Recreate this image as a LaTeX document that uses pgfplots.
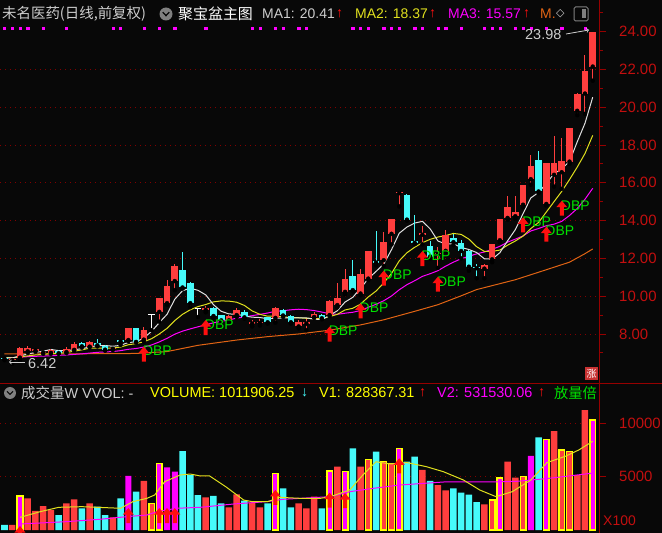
\documentclass[border=0pt]{standalone}
\usepackage{pgfplots}
\pgfplotsset{compat=1.18}
\usepackage{pgfplotstable}
\usepackage{fontspec}
\setmainfont{Liberation Sans}
\newfontfamily\cjk{Noto Sans CJK SC}
\newfontfamily\dejavu{DejaVu Sans}
\definecolor{bgc}{RGB}{8,8,8}
\definecolor{upc}{RGB}{255,62,62}
\definecolor{dnc}{RGB}{70,250,250}
\definecolor{mag}{RGB}{255,0,255}
\definecolor{yel}{RGB}{255,255,0}
\definecolor{ma2c}{RGB}{225,225,30}
\definecolor{ma1c}{RGB}{225,225,225}
\definecolor{orc}{RGB}{225,100,20}
\definecolor{axred}{RGB}{150,0,0}
\definecolor{labc}{RGB}{195,15,15}
\definecolor{gridc}{RGB}{130,0,0}
\definecolor{dbpg}{RGB}{0,225,0}
\definecolor{arrred}{RGB}{255,15,15}
\definecolor{lgray}{RGB}{205,205,205}
\definecolor{zhang}{RGB}{200,50,50}

\pgfdeclareplotmark{uparr}{%
  \pgfpathmoveto{\pgfpoint{0bp}{0bp}}%
  \pgfpathlineto{\pgfpoint{5.5bp}{-6.5bp}}%
  \pgfpathlineto{\pgfpoint{2bp}{-6.5bp}}%
  \pgfpathlineto{\pgfpoint{2bp}{-15bp}}%
  \pgfpathlineto{\pgfpoint{-2bp}{-15bp}}%
  \pgfpathlineto{\pgfpoint{-2bp}{-6.5bp}}%
  \pgfpathlineto{\pgfpoint{-5.5bp}{-6.5bp}}%
  \pgfpathclose
  \pgfusepathqfill}

\pgfplotstableread{
i o h l c
1 6.62 6.74 6.42 6.70
2 6.75 7.30 6.60 7.28
3 7.08 7.35 7.00 7.25
4 7.12 7.22 7.06 7.18
5 7.02 7.10 6.96 7.06
6 7.00 7.20 6.95 7.15
8 7.04 7.30 7.00 7.18
9 7.16 7.60 7.10 7.46
11 7.33 7.62 7.30 7.58
14 7.22 7.30 7.15 7.27
16 7.68 8.32 7.62 8.30
18 7.70 8.37 7.60 8.20
20 9.17 9.90 8.65 9.88
21 9.63 10.84 9.55 10.53
22 10.80 11.70 10.32 11.58
26 9.27 9.47 9.15 9.35
29 8.72 8.98 8.65 8.95
30 9.00 9.35 8.90 9.26
32 8.55 8.75 8.40 8.62
33 8.58 8.80 8.45 8.65
35 8.85 9.45 8.60 9.40
38 8.40 8.75 8.30 8.65
39 8.55 8.80 8.20 8.62
40 8.90 9.15 8.85 9.06
42 9.00 9.80 8.95 9.75
43 9.53 10.68 9.40 9.88
44 10.23 11.42 10.10 10.93
46 10.14 11.42 10.05 11.16
47 10.93 12.40 10.85 12.38
49 11.90 13.40 11.60 12.88
50 13.30 14.10 12.74 14.09
51 15.45 15.54 14.75 15.50
54 13.25 13.74 12.74 13.35
56 12.25 12.60 11.50 12.30
57 12.40 13.50 12.35 13.25
62 11.46 11.70 10.95 11.63
63 11.95 12.75 11.80 12.74
64 12.96 14.10 12.85 14.09
65 14.14 15.32 14.05 14.72
66 14.23 15.28 14.10 14.44
67 14.84 15.90 14.70 15.86
68 16.19 17.47 15.90 16.91
70 14.88 17.05 14.80 17.04
71 16.42 18.47 15.80 17.04
72 16.56 18.35 15.68 17.16
73 17.12 18.90 17.00 18.88
74 19.81 20.75 19.58 20.72
75 20.72 22.74 19.65 21.93
76 22.15 23.98 21.40 23.98
}\up
\pgfplotstableread{
i o h l c
0 6.75 6.78 6.62 6.70
7 7.12 7.15 6.95 6.98
10 7.50 7.55 7.28 7.35
12 7.50 7.75 7.35 7.40
13 7.35 7.40 7.12 7.17
15 7.68 7.70 7.42 7.60
17 8.30 8.32 7.55 7.58
23 11.37 12.35 10.40 10.46
24 10.72 10.75 9.42 9.63
27 9.40 9.42 8.85 8.95
28 8.98 9.02 8.65 8.72
31 9.18 9.25 8.82 8.88
34 8.88 8.92 8.55 8.62
36 9.25 9.30 8.90 8.98
37 8.95 9.00 8.55 8.62
41 9.00 9.05 8.78 8.83
45 11.05 11.90 10.25 10.32
48 11.86 13.44 11.63 11.78
52 15.37 15.40 14.00 14.05
53 12.90 14.32 12.75 12.82
55 12.65 12.91 12.00 12.10
58 13.09 13.30 12.70 12.86
59 12.79 12.95 12.00 12.39
60 12.39 12.45 11.35 11.56
61 11.52 11.70 10.95 11.48
69 17.21 17.68 15.45 15.54
}\dn
\pgfplotstableread{
i o h l c
19 9.02 9.05 8.20 9.02
25 9.35 9.40 8.90 9.35
}\flat
\pgfplotstableread{
i m5 m10 m20
0 6.74 6.75 6.75
1 6.73 6.74 6.75
2 6.84 6.79 6.77
3 6.94 6.84 6.80
4 7.02 6.89 6.82
5 7.09 6.92 6.83
6 7.18 6.96 6.85
7 7.12 6.98 6.87
8 7.11 7.02 6.89
9 7.17 7.09 6.92
10 7.22 7.16 6.95
11 7.31 7.25 6.99
12 7.39 7.26 7.03
13 7.39 7.25 7.05
14 7.35 7.26 7.07
15 7.40 7.31 7.12
16 7.55 7.43 7.19
17 7.58 7.49 7.23
18 7.79 7.59 7.31
19 8.14 7.75 7.42
20 8.60 8.00 7.58
21 9.04 8.30 7.77
22 9.84 8.71 7.99
23 10.29 9.04 8.15
24 10.42 9.28 8.27
25 10.31 9.45 8.38
26 10.07 9.56 8.49
27 9.55 9.70 8.59
28 9.20 9.75 8.67
29 9.06 9.74 8.74
30 9.05 9.68 8.84
31 8.95 9.51 8.90
32 8.89 9.22 8.97
33 8.87 9.04 9.04
34 8.81 8.94 9.11
35 8.83 8.94 9.20
36 8.85 8.90 9.23
37 8.85 8.87 9.28
38 8.85 8.86 9.31
39 8.85 8.83 9.29
40 8.79 8.81 9.24
41 8.76 8.81 9.16
42 8.98 8.92 9.07
43 9.23 9.04 9.04
44 9.69 9.27 9.10
45 9.94 9.36 9.15
46 10.41 9.58 9.24
47 10.93 9.96 9.41
48 11.31 10.27 9.57
49 11.70 10.70 9.76
50 12.46 11.20 10.01
51 13.33 11.87 10.34
52 13.66 12.30 10.61
53 13.87 12.59 10.82
54 13.96 12.83 11.05
55 13.56 13.01 11.19
56 12.92 13.13 11.35
57 12.76 13.21 11.59
58 12.77 13.32 11.80
59 12.58 13.27 11.98
60 12.47 13.02 12.11
61 12.31 12.62 12.24
62 11.98 12.37 12.34
63 11.96 12.37 12.48
64 12.30 12.44 12.64
65 12.93 12.70 12.86
66 13.52 12.92 13.02
67 14.37 13.18 13.19
68 15.20 13.58 13.45
69 15.49 13.90 13.58
70 15.96 14.45 13.73
71 16.48 15.00 13.81
72 16.74 15.55 13.96
73 17.13 16.17 14.27
74 18.17 16.83 14.64
75 19.15 17.55 15.13
76 20.53 18.51 15.71
}\ma
\pgfplotstableread{
i p
0 6.95
8 6.95
14 6.96
17 6.97
21 7.07
25 7.40
30 7.68
34 7.86
38 8.00
42 8.20
46 8.48
49 8.75
53 9.20
56 9.55
59 10.02
61 10.35
66 10.87
70 11.40
73 11.80
75 12.25
76 12.50
}\orma
\pgfplotstableread{
i p
18 7.33
26 8.74
42 8.39
46 9.62
49 11.35
54 12.39
56 11.03
67 14.17
70 13.68
72 15.05
}\dbp
\pgfplotstableread{
i v
1 470
3 2960
4 1780
5 2240
6 1870
8 2490
9 2870
11 2490
14 1190
18 4580
26 3050
29 2120
30 3330
32 2550
33 2120
38 2490
39 2020
40 3110
43 5920
46 5920
54 5610
56 4200
57 3700
62 2400
65 6380
66 4900
71 9250
74 5140
75 11210
}\vR
\pgfplotstableread{
i v
0 470
7 1400
10 2020
12 2180
13 1400
15 2960
17 3580
23 7380
24 5140
25 3270
27 3180
28 2490
31 2740
34 2490
36 3890
37 2120
41 2020
45 7630
48 7320
52 6390
53 6850
55 4600
58 3900
59 3500
60 3300
61 2600
69 8660
}\vC
\pgfplotstableread{
i v
19 2490
47 6600
49 6390
50 6230
63 2800
67 5000
72 7480
73 7320
}\vYR
\pgfplotstableread{
i v
2 3180
20 6230
35 5300
42 5510
44 5450
51 7630
64 4860
70 8470
76 10280
}\vYM
\pgfplotstableread{
i v
16 5050
21 5860
22 5450
68 6920
}\vM
\pgfplotstableread{
i v
2 1180
4.6 1710
7 2120
10 2180
12 2120
15 2030
16.6 2650
18.4 2960
19.4 3270
20.7 4520
22.7 5140
24 5230
25.3 5050
26.5 5050
28.7 3990
30.9 2800
32 2650
34 2650
35.6 3050
38.2 2960
40.8 2960
42.1 3115
44.6 3740
46.3 5140
48 6380
49.8 6170
52 6300
54.5 5920
56.7 5450
59.3 4670
61.4 3740
63.5 3115
65.6 3580
68 4670
70.1 6300
72.5 6900
74.2 7480
76 8284
}\vone
\pgfplotstableread{
i v
2 560
8 780
12.3 1000
15.8 1250
18.4 1400
19.7 1710
22.2 2030
25.3 2120
29.6 2430
33.9 2650
36 2870
42.1 3115
44.6 3580
47.6 3890
51 4200
57 4500
63.5 4500
66.2 4550
70 4800
76 5315
}\vtwo
\pgfplotstableread{
i v
2 370
16 2050
20 2050
21 2050
22 2050
35 3740
42 3490
44 3450
51 6700
}\varr

\pgfplotsset{
  wick/.style={only marks, mark=none, forget plot, error bars/.cd, y dir=plus, y explicit, error mark=none, error bar style={line width=1bp, #1}},
  body/.style={only marks, mark=none, forget plot, error bars/.cd, y dir=plus, y explicit, error mark=none, error bar style={line width=6.6bp, #1}},
  panel/.style={scale only axis, width=599bp, xmin=-0.5814, xmax=76.81,
    xtick=\empty, ytick pos=right, yticklabel pos=right,
    axis line style={draw=none},
    ymajorgrids, major grid style={gridc, line width=0.9bp, dash pattern=on 1.2bp off 3.8bp},
    tick align=outside, major tick length=7bp, minor tick length=4bp,
    tick style={axred, line width=0.9bp},
    /pgf/number format/assume math mode=true,
    clip=true},
}

\begin{document}
\begin{tikzpicture}
\fill[bgc] (0bp,0bp) rectangle (662bp,533bp);
\useasboundingbox (0bp,0bp) rectangle (662bp,533bp);

\begin{axis}[panel,
  at={(0bp,149bp)}, anchor=south west, height=384bp,
  ymin=5.354, ymax=25.672,
  ytick={8,10,...,22}, extra y ticks={24}, extra y tick style={grid=none},
  minor ytick={7,9,...,25},
  yticklabel style={text=labc, font=\fontsize{15}{15}\selectfont, anchor=west, inner sep=0pt, xshift=13bp,
    /pgf/number format/fixed, /pgf/number format/fixed zerofill, /pgf/number format/precision=2},
]
\addplot[only marks, mark=square*, mark size=1.1bp, mag, forget plot] coordinates {
(0,24.18)(1,24.18)(2,24.18)(3,24.18)(5,24.18)(8,24.18)(14,24.18)(15,24.18)(18,24.18)(20,24.18)(22,24.18)(26,24.18)(32,24.18)(33,24.18)(35,24.18)(36,24.18)(38,24.18)(39,24.18)(45,24.18)(46,24.18)(47,24.18)(49,24.18)(50,24.18)(51,24.18)(53,24.18)(54,24.18)(56,24.18)(57,24.18)(59,24.18)(62,24.18)(63,24.18)(64,24.18)(66,24.18)(67,24.18)(68,24.18)(70,24.18)(72,24.18)(75,24.18)};
\addplot[orc, line width=1bp, mark=none] table[x=i,y=p] {\orma};
\addplot[mag, line width=1bp, mark=none] table[x=i,y=m20] {\ma};
\addplot[ma2c, line width=1bp, mark=none] table[x=i,y=m10] {\ma};
\addplot[ma1c, line width=1bp, mark=none] table[x=i,y=m5] {\ma};
\addplot[wick=upc] table[x=i, y=l, y error expr=\thisrow{h}-\thisrow{l}] {\up};
\addplot[body=upc] table[x=i, y=o, y error expr=\thisrow{c}-\thisrow{o}] {\up};
\addplot[wick=dnc] table[x=i, y=l, y error expr=\thisrow{h}-\thisrow{l}] {\dn};
\addplot[body=dnc] table[x=i, y=c, y error expr=\thisrow{o}-\thisrow{c}] {\dn};
\addplot[wick=white] table[x=i, y=l, y error expr=\thisrow{h}-\thisrow{l}] {\flat};
\addplot[only marks, mark=-, mark size=3.3bp, white, mark options={line width=1.3bp}, forget plot] table[x=i, y=c] {\flat};
\addplot[only marks, mark=none, forget plot, nodes near coords={DBP}, nodes near coords align={anchor=west},
  every node near coord/.append style={text=dbpg, font=\fontsize{14}{14}\selectfont, inner sep=0pt, anchor=west, xshift=-1bp, yshift=-4.5bp}]
  table[x=i, y=p] {\dbp};
\addplot[only marks, mark=uparr, arrred, forget plot] table[x=i, y=p] {\dbp};
\end{axis}

\begin{axis}[panel,
  at={(0bp,0bp)}, anchor=south west, height=148bp,
  ymin=-280, ymax=13551,
  ytick={5000,10000},
  scaled y ticks=false,
  yticklabel style={text=labc, font=\fontsize{15}{15}\selectfont, anchor=west, inner sep=0pt, xshift=13bp,
    /pgf/number format/fixed, /pgf/number format/precision=0, /pgf/number format/1000 sep={}},
]
\addplot[ybar, bar width=6.5bp, bar shift=0pt, fill=upc, draw=none, forget plot] table[x=i,y=v] {\vR};
\addplot[ybar, bar width=6.5bp, bar shift=0pt, fill=dnc, draw=none, forget plot] table[x=i,y=v] {\vC};
\addplot[ybar, bar width=6bp, bar shift=0pt, fill=mag, draw=none, forget plot] table[x=i,y=v] {\vM};
\addplot[ybar, bar width=5.6bp, bar shift=0pt, fill=upc, draw=yel, line width=1.5bp, forget plot] table[x=i,y=v] {\vYR};
\addplot[ybar, bar width=5.6bp, bar shift=0pt, fill=mag, draw=yel, line width=1.5bp, forget plot] table[x=i,y=v] {\vYM};
\addplot[mag, line width=1bp, mark=none] table[x=i,y=v] {\vtwo};
\addplot[ma2c, line width=1bp, mark=none] table[x=i,y=v] {\vone};
\addplot[only marks, mark=uparr, arrred, forget plot] table[x=i, y=v] {\varr};
\end{axis}

\begin{scope}[x=1bp,y=1bp]
\draw[axred, line width=1bp] (0,149) -- (662,149);
\draw[axred, line width=1bp] (599,0) -- (599,533);

\node[anchor=west, inner sep=0pt, text=lgray, font=\cjk\fontsize{14.5}{14.5}\selectfont] at (2,519) {未名医药(日线,前复权)};
\fill[gray] (166,519) circle (6.5);
\draw[bgc, line width=1.3bp] (162.8,520.8) -- (166,517.4) -- (169.2,520.8);
\node[anchor=west, inner sep=0pt, text=white, font=\cjk\fontsize{15}{15}\selectfont] at (178,519) {聚宝盆主图};
\node[anchor=west, inner sep=0pt, text=lgray, font=\fontsize{14}{14}\selectfont] at (262,519) {MA1: 20.41};
\node[anchor=west, inner sep=0pt, text=arrred, font=\fontsize{14}{14}\selectfont] at (336,519) {↑};
\node[anchor=west, inner sep=0pt, text=ma2c, font=\fontsize{14}{14}\selectfont] at (355,519) {MA2: 18.37};
\node[anchor=west, inner sep=0pt, text=arrred, font=\fontsize{14}{14}\selectfont] at (429,519) {↑};
\node[anchor=west, inner sep=0pt, text=mag, font=\fontsize{14}{14}\selectfont] at (448,519) {MA3: 15.57};
\node[anchor=west, inner sep=0pt, text=arrred, font=\fontsize{14}{14}\selectfont] at (523,519) {↑};
\node[anchor=west, inner sep=0pt, text=orc, font=\fontsize{14}{14}\selectfont] at (540,519) {M.};
\node[anchor=west, inner sep=0pt, text=lgray, font=\dejavu\fontsize{11}{11}\selectfont] at (556,519) {◇};
\draw[gray, line width=1bp, rounded corners=1.5bp] (574,512) rectangle (588,526);
\fill[gray] (581.5,514.5) rectangle (585.5,523.5);

\node[anchor=west, inner sep=0pt, text=lgray, font=\fontsize{14.5}{14.5}\selectfont] at (525,498) {23.98};
\draw[->, lgray, line width=0.8bp] (566,499) -- (589,503);
\draw[<-, lgray, line width=0.8bp] (9,171) -- (25,171);
\node[anchor=west, inner sep=0pt, text=lgray, font=\fontsize{14.5}{14.5}\selectfont] at (28,169) {6.42};
\fill[zhang] (585,153) rectangle (598,166);
\node[inner sep=0pt, text=white, font=\cjk\fontsize{10}{10}\selectfont] at (591.5,159.5) {涨};

\fill[gray] (10,140) circle (6);
\draw[bgc, line width=1.2bp] (7,141.6) -- (10,138.6) -- (13,141.6);
\node[anchor=west, inner sep=0pt, text=lgray, font=\fontsize{14.5}{14.5}\selectfont] at (21,140) {{\cjk 成交量}W VVOL: -};
\node[anchor=west, inner sep=0pt, text=yel, font=\fontsize{14.5}{14.5}\selectfont] at (150,140) {VOLUME: 1011906.25};
\node[anchor=west, inner sep=0pt, text=dnc, font=\fontsize{14}{14}\selectfont] at (301,140) {↓};
\node[anchor=west, inner sep=0pt, text=yel, font=\fontsize{14.5}{14.5}\selectfont] at (319,140) {V1: 828367.31};
\node[anchor=west, inner sep=0pt, text=arrred, font=\fontsize{14}{14}\selectfont] at (419,140) {↑};
\node[anchor=west, inner sep=0pt, text=mag, font=\fontsize{14.5}{14.5}\selectfont] at (437,140) {V2: 531530.06};
\node[anchor=west, inner sep=0pt, text=arrred, font=\fontsize{14}{14}\selectfont] at (538,140) {↑};
\node[anchor=west, inner sep=0pt, text=dbpg, font=\cjk\fontsize{14.3}{14.3}\selectfont] at (554,140) {放量倍};
\node[anchor=west, inner sep=0pt, text=labc, font=\fontsize{14}{14}\selectfont] at (603,12) {X100};
\end{scope}
\end{tikzpicture}
\end{document}
